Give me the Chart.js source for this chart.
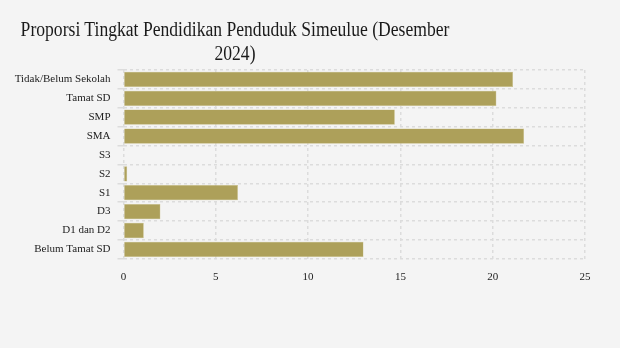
<!DOCTYPE html>
<html>
<head>
<meta charset="utf-8">
<script src="https://cdn.jsdelivr.net/npm/chart.js@4"></script>
<style>
  body { margin: 0; background: #f4f4f4; }
  #wadah { position: relative; width: 620px; height: 348px; }
  #judul {
    position: absolute; left: 15px; top: 18px; width: 500px;
    text-align: center; font-family: "Liberation Serif", serif;
    font-size: 20px; line-height: 23.5px; color: #1a1a1a;
    transform: scaleX(0.88); transform-origin: left top;
  }
</style>
</head>
<body>
<div id="wadah">
  <div id="judul">Proporsi Tingkat Pendidikan Penduduk Simeulue (Desember 2024)</div>
  <canvas id="grafik" width="620" height="348"></canvas>
</div>
<script>
// data
const kategori = ['Tidak/Belum Sekolah', 'Tamat SD', 'SMP', 'SMA', 'S3', 'S2', 'S1', 'D3', 'D1 dan D2', 'Belum Tamat SD'];
const persen = [21.1, 20.2, 14.7, 21.7, 0, 0.2, 6.2, 2.0, 1.1, 13.0];
const tickX = [0, 5, 10, 15, 20, 25];

const fontSerif = { family: '"Liberation Serif", serif', size: 11 };
const warnaGrid = '#dcdcdc';

new Chart(document.getElementById('grafik').getContext('2d'), {
  type: 'bar',
  data: {
    labels: kategori,
    datasets: [{
      data: persen,
      backgroundColor: '#ada05a',
      borderColor: '#c9bf86',
      borderWidth: 0.5,
      barPercentage: 0.9,
      categoryPercentage: 0.9
    }]
  },
  options: {
    indexAxis: 'y',
    responsive: false,
    animation: false,
    layout: { padding: { top: 70, right: 35, bottom: 52, left: 0 } },
    plugins: {
      legend: { display: false },
      tooltip: { enabled: false }
    },
    scales: {
      x: {
        min: tickX[0],
        max: tickX[tickX.length - 1],
        afterBuildTicks: (axis) => { axis.ticks = tickX.map(v => ({ value: v })); },
        ticks: { font: fontSerif, color: '#222', padding: 12 },
        grid: { color: warnaGrid, lineWidth: 1.5, drawTicks: false },
        border: { display: false, dash: [3, 3] }
      },
      y: {
        afterFit: (axis) => { axis.width = 123.5; },
        ticks: { font: fontSerif, color: '#222', padding: 7 },
        grid: { color: warnaGrid, lineWidth: 1.5, tickLength: 6 },
        border: { display: false, dash: [3, 3] }
      }
    }
  },
  plugins: [{
    id: 'garisPutus',
    beforeDraw(chart) {
      // grid putus-putus untuk kedua sumbu
      chart.ctx.setLineDash([3, 3]);
    }
  }]
});
</script>
</body>
</html>
